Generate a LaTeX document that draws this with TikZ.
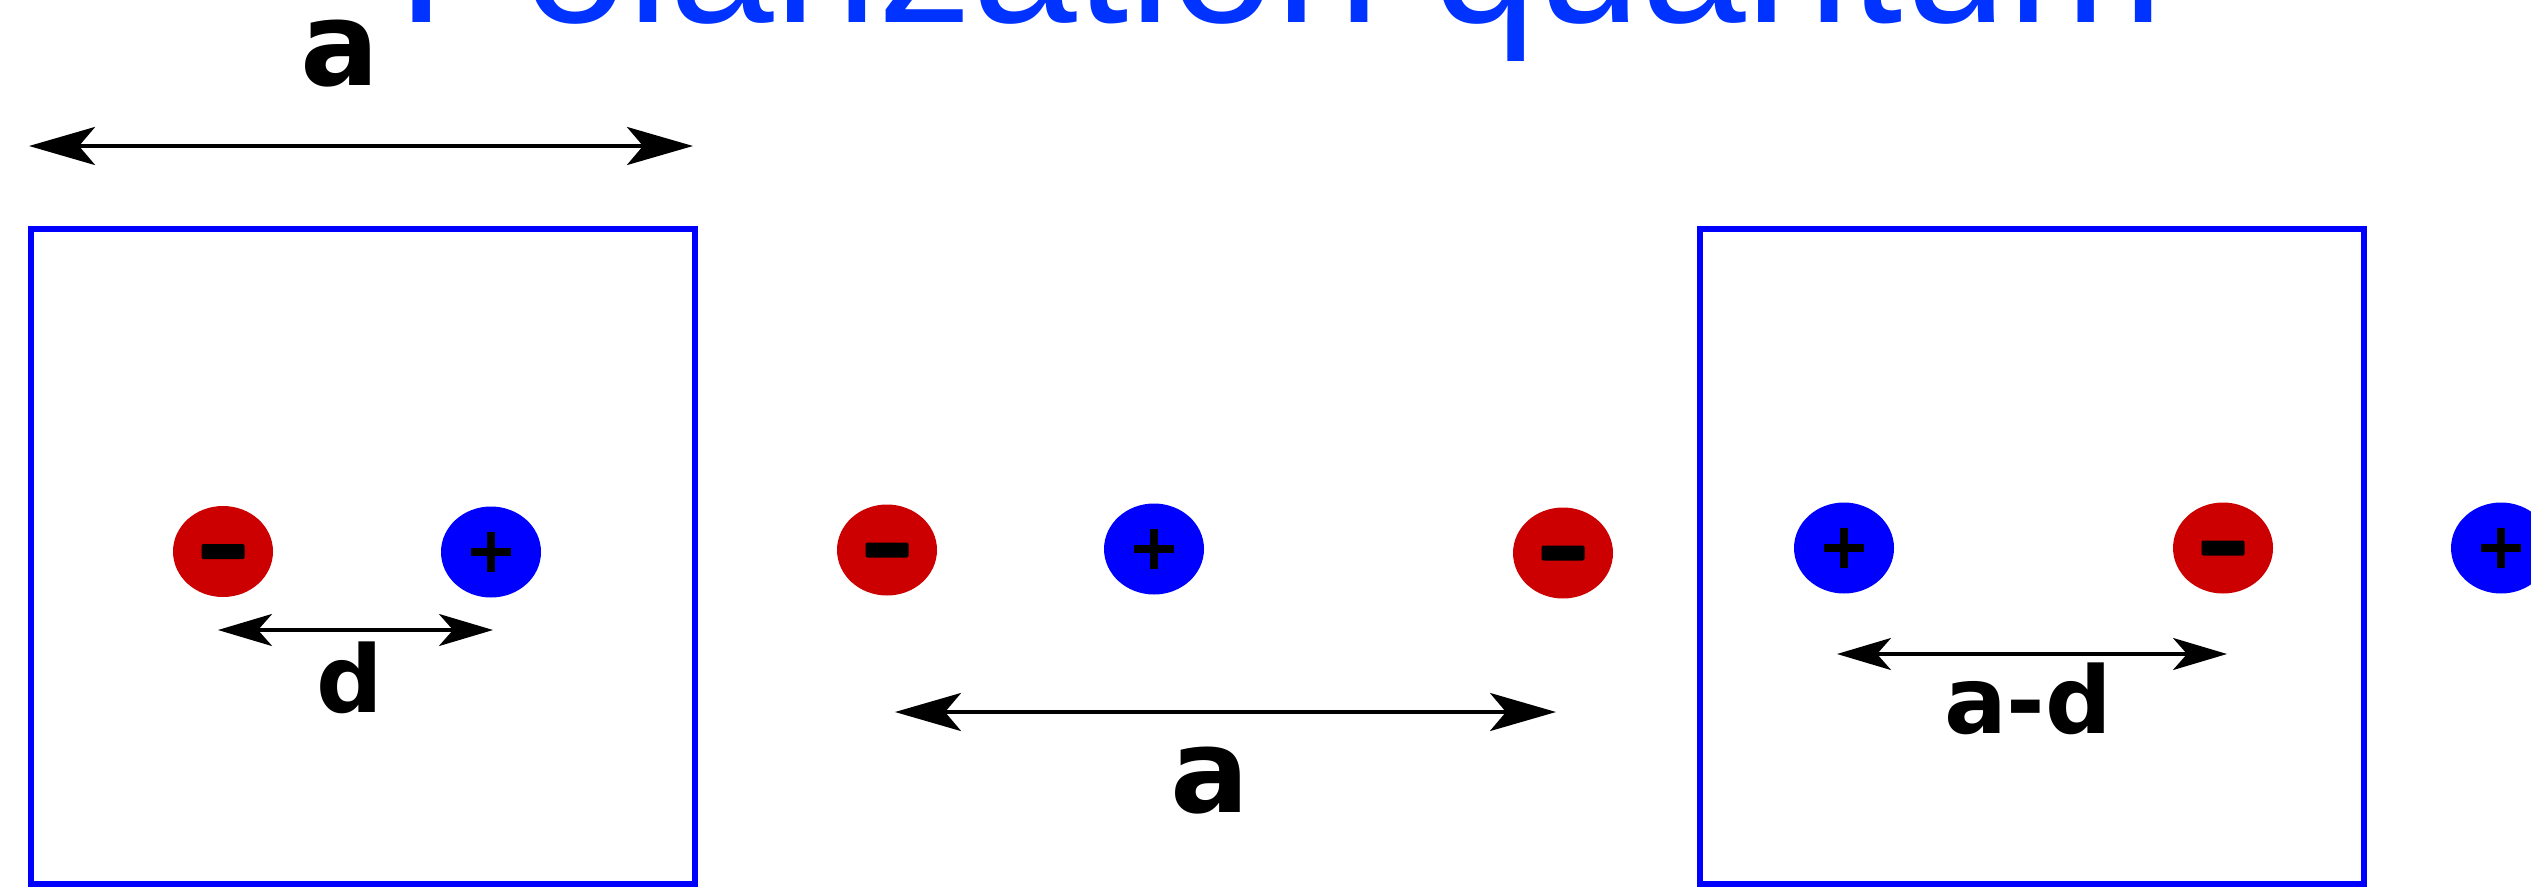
\documentclass[tikz,border=0pt]{standalone}
\usepackage{fontspec}
\setmainfont{Liberation Sans}
\newfontfamily\labelfont{DejaVu Sans}
\usetikzlibrary{arrows.meta,shapes.geometric}
\definecolor{titleblue}{HTML}{0033FF}
\definecolor{boxblue}{HTML}{0000FF}
\definecolor{negred}{HTML}{CC0000}
\definecolor{posblue}{HTML}{0000FF}
\tikzset{
  cellbox/.style={draw=boxblue, line width=5.5pt, inner sep=0pt, minimum width=664pt, minimum height=655pt},
  charge/.style={ellipse, inner sep=0pt, minimum width=100pt, minimum height=91pt},
  negcharge/.style={charge, fill=negred, path picture={
      \fill[black, rounded corners=2pt] ([xshift=-21.5pt,yshift=-7.5pt]path picture bounding box.center)
        rectangle ([xshift=21.5pt,yshift=7.5pt]path picture bounding box.center);}},
  poscharge/.style={charge, fill=posblue, path picture={
      \draw[black, line width=8pt]
        ([xshift=-20pt]path picture bounding box.center) -- ([xshift=20pt]path picture bounding box.center)
        ([yshift=-20pt]path picture bounding box.center) -- ([yshift=20pt]path picture bounding box.center);}},
  bigdim/.style={line width=4pt, {Stealth[length=66pt,width=38pt,inset=16pt]}-{Stealth[length=66pt,width=38pt,inset=16pt]}},
  smalldim/.style={line width=3.5pt, {Stealth[length=54pt,width=32pt,inset=14pt]}-{Stealth[length=54pt,width=32pt,inset=14pt]}},
  biglabel/.style={inner sep=0pt, anchor=base, text height=68pt, text depth=0pt, font=\labelfont\fontsize{117}{120}\selectfont\bfseries},
  smalllabel/.style={inner sep=0pt, anchor=base, font=\labelfont\fontsize{93}{97}\selectfont\bfseries},
  titletext/.style={inner sep=0pt, anchor=base, text=titleblue, font=\fontsize{188}{200}\selectfont}
}
\begin{document}
\begin{tikzpicture}[x=1pt,y=-1pt]
\useasboundingbox (0,0) rectangle (2531,894);
\clip (0,0) rectangle (2531,894);
\fill[white] (0,0) rectangle (2531,894);

% title (cut off at the top)
\node[titletext] (title) at (1281,23) {Polarization quantum};

% unit cells
\node[cellbox] (cell1) at (363,556.5) {};
\node[cellbox] (cell2) at (2032,556.5) {};

% charges
\node[negcharge] (n1) at (223,551.5) {};
\node[poscharge] (p1) at (491,552) {};
\node[negcharge] (n2) at (887,550) {};
\node[poscharge] (p2) at (1154,549) {};
\node[negcharge] (n3) at (1563,553) {};
\node[poscharge] (p3) at (1844,548) {};
\node[negcharge] (n4) at (2223,548) {};
\node[poscharge] (p4) at (2501,548) {};

% dimension arrows
\coordinate (topL) at (29,146);
\coordinate (topR) at (693,146);
\draw[bigdim] (topL) -- (topR);
\node[biglabel] (toplab) at (340,85) {a};

\coordinate (dL) at (218,630);
\coordinate (dR) at (493,630);
\draw[smalldim] (dL) -- (dR);
\node[smalllabel] (dlab) at (350,712) {d};

\coordinate (midL) at (895,712);
\coordinate (midR) at (1556,712);
\draw[bigdim] (midL) -- (midR);
\node[biglabel] (midlab) at (1210,812) {a};

\coordinate (adL) at (1837,654);
\coordinate (adR) at (2227,654);
\draw[smalldim] (adL) -- (adR);
\node[smalllabel] (adlab) at (2028,733) {a-d};
\end{tikzpicture}
\end{document}
